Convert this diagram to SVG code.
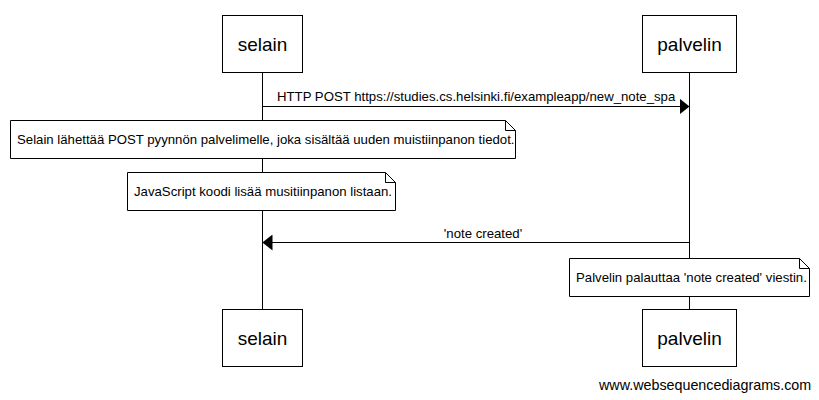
<svg xmlns="http://www.w3.org/2000/svg" width="819" height="400" viewBox="0 0 819 400">
<style>
.box{fill:#fff;stroke:#000;stroke-width:1}
.life{stroke:#000;stroke-width:1}
.note{fill:#fff;stroke:#000;stroke-width:1}
.fold{fill:none;stroke:#000;stroke-width:1}
.actor{font-family:"Liberation Sans",Arial,sans-serif;font-size:19px;fill:#000;text-anchor:middle}
.msg{font-family:"Liberation Sans",Arial,sans-serif;font-size:13.2px;fill:#000}
.wm{font-family:"Liberation Sans",Arial,sans-serif;font-size:14.3px;fill:#000}
</style>
<defs>
<marker id="ah" markerWidth="10" markerHeight="16" refX="10" refY="8" orient="auto" markerUnits="userSpaceOnUse">
<path d="M0,0 L10,8 L0,16 Z" fill="#000"/>
</marker>
</defs>
<rect width="819" height="400" fill="#fff"/>
<g id="lifelines">
<line class="life" x1="262.5" y1="72" x2="262.5" y2="309"/>
<line class="life" x1="689.5" y1="72" x2="689.5" y2="309"/>
</g>
<g id="connectors">
<line x1="262.5" y1="106.5" x2="689.5" y2="106.5" stroke="#000" stroke-width="1" marker-end="url(#ah)"/>
<text class="msg" x="277" y="101">HTTP POST https://studies.cs.helsinki.fi/exampleapp/new_note_spa</text>
<line x1="689.5" y1="242.5" x2="262.5" y2="242.5" stroke="#000" stroke-width="1" marker-end="url(#ah)"/>
<text class="msg" x="483" y="238" text-anchor="middle">'note created'</text>
</g>
<g id="selain-top">
<rect class="box" x="222.5" y="15.5" width="80" height="57"/>
<text class="actor" x="262.5" y="51">selain</text>
</g>
<g id="palvelin-top">
<rect class="box" x="642.5" y="15.5" width="94" height="57"/>
<text class="actor" x="689.5" y="51">palvelin</text>
</g>
<g id="note1">
<path class="note" d="M10.5,120.5 H505.5 L515.5,130.5 V158.5 H10.5 Z"/>
<path class="fold" d="M505.5,120.5 V130.5 H515.5"/>
<text class="msg" x="17" y="144">Selain lähettää POST pyynnön palvelimelle, joka sisältää uuden muistiinpanon tiedot.</text>
</g>
<g id="note2">
<path class="note" d="M127.5,172.5 H385.5 L395.5,182.5 V210.5 H127.5 Z"/>
<path class="fold" d="M385.5,172.5 V182.5 H395.5"/>
<text class="msg" x="134" y="196">JavaScript koodi lisää musitiinpanon listaan.</text>
</g>
<g id="note3">
<path class="note" d="M569.5,258.5 H799.5 L809.5,268.5 V296.5 H569.5 Z"/>
<path class="fold" d="M799.5,258.5 V268.5 H809.5"/>
<text class="msg" x="576" y="282">Palvelin palauttaa 'note created' viestin.</text>
</g>
<g id="selain-bottom">
<rect class="box" x="222.5" y="309.5" width="80" height="57"/>
<text class="actor" x="262.5" y="345">selain</text>
</g>
<g id="palvelin-bottom">
<rect class="box" x="642.5" y="309.5" width="94" height="57"/>
<text class="actor" x="689.5" y="345">palvelin</text>
</g>
<text class="wm" x="599" y="390">www.websequencediagrams.com</text>
</svg>
